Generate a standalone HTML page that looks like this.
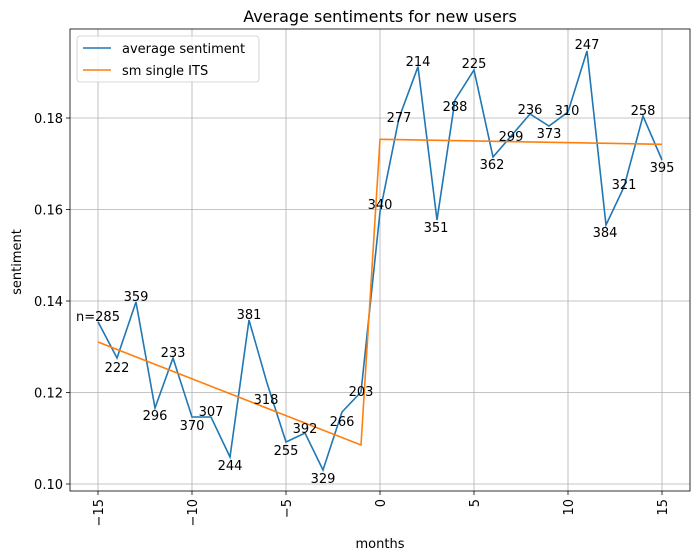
<!DOCTYPE html>
<html><head><style>body{margin:0;background:#fff}svg{display:block;font-family:"DejaVu Sans","Liberation Sans",sans-serif}</style></head><body>
<svg width="700" height="560" viewBox="0 0 700 560" xmlns="http://www.w3.org/2000/svg">
<rect width="700" height="560" fill="#fff"/>
<g stroke="#b0b0b0" stroke-width="0.8">
<line x1="98" y1="29" x2="98" y2="491"/><line x1="192" y1="29" x2="192" y2="491"/><line x1="286" y1="29" x2="286" y2="491"/><line x1="380" y1="29" x2="380" y2="491"/><line x1="474" y1="29" x2="474" y2="491"/><line x1="568" y1="29" x2="568" y2="491"/><line x1="662" y1="29" x2="662" y2="491"/>
<line x1="70" y1="484" x2="690" y2="484"/><line x1="70" y1="392.5" x2="690" y2="392.5"/><line x1="70" y1="301" x2="690" y2="301"/><line x1="70" y1="209.5" x2="690" y2="209.5"/><line x1="70" y1="118" x2="690" y2="118"/>
</g>
<polyline fill="none" stroke="#1f77b4" stroke-width="1.6" points="98,321.7 117,358 136,302 155,408 173,358 192,417 211,417 230,457 249,320 267,383 286,442 305,433 323,470 342,412 361,392 380,212 399,118 418,66.7 437,220 455,100 474,70 493,157 512,135 530,114 549,126 568,112 587,51 606,225 624,187 643,116 662,160"/>
<polyline fill="none" stroke="#ff7f0e" stroke-width="1.6" points="98,342 361,445 380,139.3 662,144.3"/>
<rect x="70" y="29" width="620" height="462" fill="none" stroke="#000" stroke-width="0.8"/>
<g stroke="#000" stroke-width="0.8">
<line x1="98" y1="491" x2="98" y2="495"/><line x1="192" y1="491" x2="192" y2="495"/><line x1="286" y1="491" x2="286" y2="495"/><line x1="380" y1="491" x2="380" y2="495"/><line x1="474" y1="491" x2="474" y2="495"/><line x1="568" y1="491" x2="568" y2="495"/><line x1="662" y1="491" x2="662" y2="495"/>
<line x1="66" y1="484" x2="70" y2="484"/><line x1="66" y1="392.5" x2="70" y2="392.5"/><line x1="66" y1="301" x2="70" y2="301"/><line x1="66" y1="209.5" x2="70" y2="209.5"/><line x1="66" y1="118" x2="70" y2="118"/>
</g>
<g font-size="13" text-anchor="end" fill="#000">
<text x="63" y="489">0.10</text><text x="63" y="397.5">0.12</text><text x="63" y="306">0.14</text><text x="63" y="214.5">0.16</text><text x="63" y="123">0.18</text>
</g>
<g font-size="13" text-anchor="end">
<text transform="translate(103,499) rotate(-90)">−15</text>
<text transform="translate(197,499) rotate(-90)">−10</text>
<text transform="translate(291,499) rotate(-90)">−5</text>
<text transform="translate(385,499) rotate(-90)">0</text>
<text transform="translate(479,499) rotate(-90)">5</text>
<text transform="translate(573,499) rotate(-90)">10</text>
<text transform="translate(667,499) rotate(-90)">15</text>
</g>
<text x="380" y="548" font-size="13" text-anchor="middle">months</text>
<text transform="translate(21,262) rotate(-90)" font-size="13" text-anchor="middle">sentiment</text>
<text x="380" y="22" font-size="16" text-anchor="middle">Average sentiments for new users</text>
<g font-size="13" text-anchor="middle">
<text x="98" y="321">n=285</text><text x="117" y="372">222</text><text x="136" y="301">359</text><text x="155" y="420">296</text><text x="173" y="357">233</text><text x="192" y="430">370</text><text x="211" y="416">307</text><text x="230" y="470">244</text><text x="249" y="319">381</text><text x="266" y="404">318</text><text x="286" y="455">255</text><text x="305" y="433">392</text><text x="323" y="483">329</text><text x="342" y="426">266</text><text x="361" y="396">203</text><text x="380" y="209">340</text><text x="399" y="122">277</text><text x="418" y="66">214</text><text x="436" y="232">351</text><text x="455" y="111">288</text><text x="474" y="68">225</text><text x="511" y="141">299</text><text x="492" y="169">362</text><text x="530" y="114">236</text><text x="549" y="138">373</text><text x="567" y="115">310</text><text x="587" y="49">247</text><text x="605" y="237">384</text><text x="624" y="189">321</text><text x="643" y="115">258</text><text x="662" y="172">395</text>
</g>
<rect x="77" y="36" width="182" height="46" rx="3" fill="#fff" fill-opacity="0.8" stroke="#ccc" stroke-width="0.8"/>
<line x1="83" y1="48" x2="111" y2="48" stroke="#1f77b4" stroke-width="1.6"/>
<line x1="83" y1="70" x2="111" y2="70" stroke="#ff7f0e" stroke-width="1.6"/>
<text x="122" y="53" font-size="13">average sentiment</text>
<text x="122" y="75" font-size="13">sm single ITS</text>
</svg>
</body></html>
